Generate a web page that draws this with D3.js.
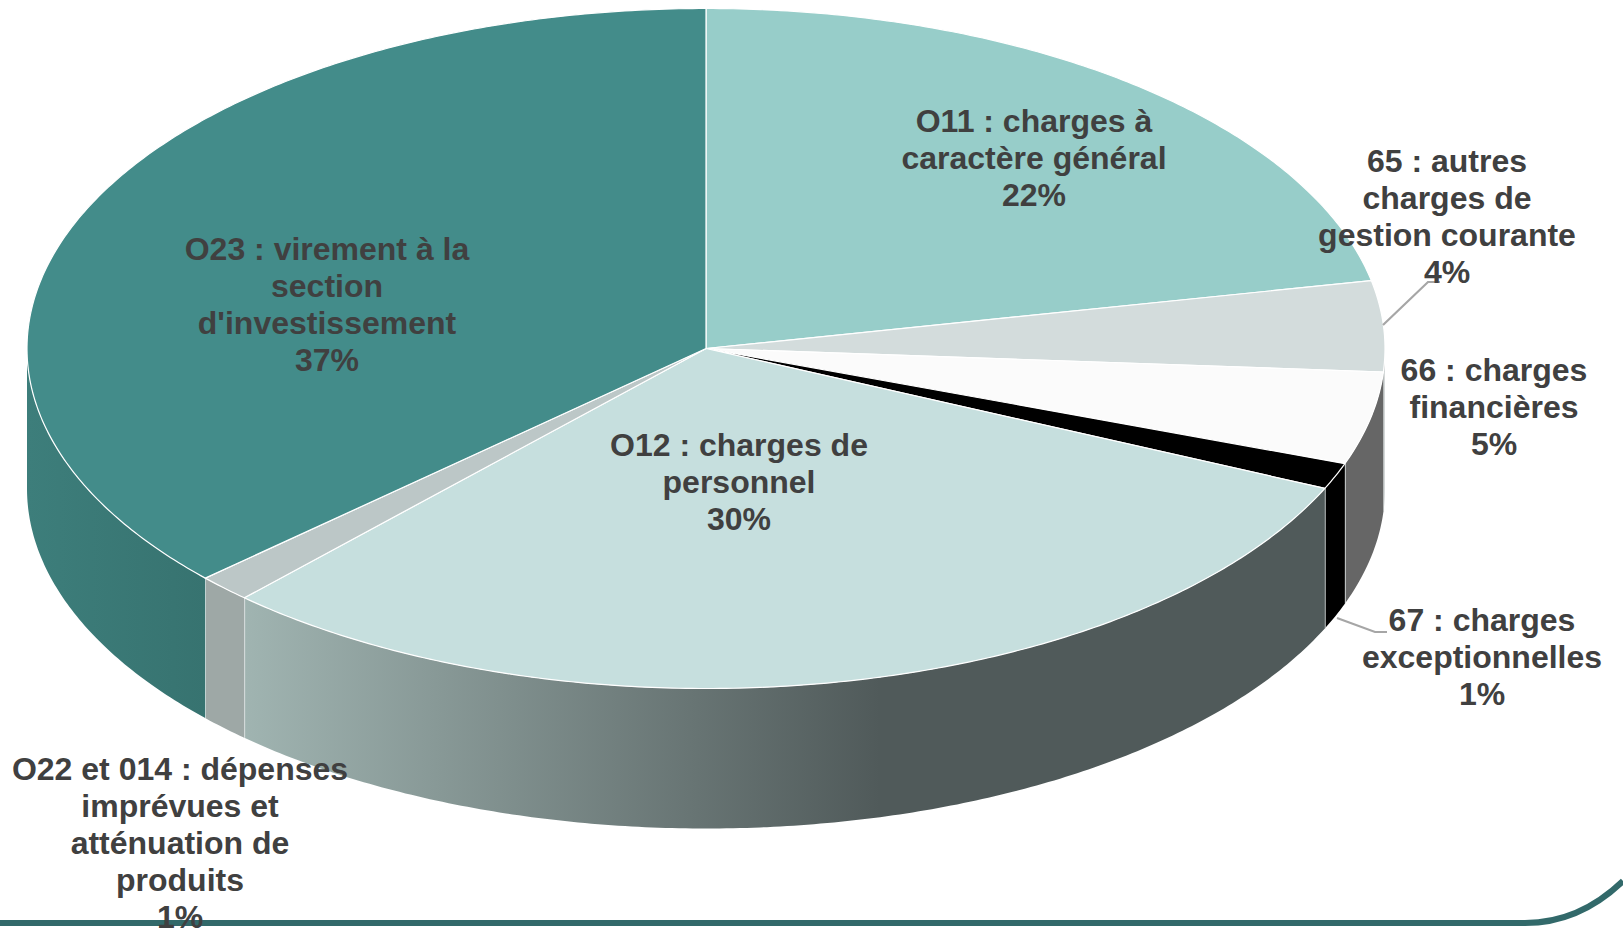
<!DOCTYPE html>
<meta charset="utf-8">
<style>
html, body { margin: 0; background: #fff; }
svg { display: block; }
.label { font-family: "Liberation Sans", Arial, sans-serif; font-weight: bold; font-size: 32px; fill: #404040; text-anchor: middle; }
</style>
<body>
<script src="https://d3js.org/d3.v7.min.js"></script>
<script>
// slices, clockwise from 12 o'clock
const categories = ["O11", "65", "66", "67", "O12", "O22", "O23"];
const values = [21.8, 4.3, 4.4, 1.25, 30.15, 1.3, 36.8];
const labelLines = [
  ["O11 : charges à", "caractère général", "22%"],
  ["65 : autres", "charges de", "gestion courante", "4%"],
  ["66 : charges", "financières", "5%"],
  ["67 : charges", "exceptionnelles", "1%"],
  ["O12 : charges de", "personnel", "30%"],
  ["O22 et 014 : dépenses", "imprévues et", "atténuation de", "produits", "1%"],
  ["O23 : virement à la", "section", "d'investissement", "37%"]
];

// look of the slices
const topColors = ["#97cdc9", "#d3dcdc", "#fbfbfb", "#000000", "#c6dfde", "#bcc7c7", "#438c8a"];
const wallColors = [
  ["#97cdc9", "#97cdc9"], ["#d0d4d4", "#d0d4d4"], ["#666666", "#666666"], ["#000000", "#000000"],
  ["#a0b4b1", "#505a5a"], ["#9ea8a6", "#9ea8a6"], ["#3d7e7b", "#377370"]
];
// where the label block sits (centre x, first line centre y)
const labelX = [1034, 1447, 1494, 1482, 739, 180, 327];
const labelY = [121, 161, 370, 620, 445, 769, 249];

const W = 1623, H = 929;
const cx = 706, cy = 348.5, rx = 679, ry = 340, depth = 140, lineStep = 37;

const x = d3.scaleLinear().domain([-1, 1]).range([cx - rx, cx + rx]);
const y = d3.scaleLinear().domain([-1, 1]).range([cy - ry, cy + ry]);
const px = a => x(Math.sin(a));
const py = a => y(-Math.cos(a));

const svg = d3.select("body").append("svg").attr("width", W).attr("height", H);
const defs = svg.append("defs");

const slices = d3.pie().sort(null).value(d => d)(values);

function arcPoints(a0, a1) {
  const n = Math.max(2, Math.ceil((a1 - a0) / 0.01));
  return d3.range(n + 1).map(i => a0 + (a1 - a0) * i / n);
}

// side walls, only the front half can be seen
const g = svg.append("g");
const path = d3.line();
slices.forEach(function(s, i) {
  const a0 = Math.max(s.startAngle, Math.PI / 2), a1 = Math.min(s.endAngle, Math.PI * 1.5);
  if (a1 <= a0) return;
  const pts = arcPoints(a0, a1);
  const topEdge = pts.map(a => [px(a), py(a)]);
  const botEdge = pts.slice().reverse().map(a => [px(a), py(a) + depth]);

  const id = "wall" + i;
  const grad = defs.append("linearGradient").attr("id", id)
    .attr("gradientUnits", "userSpaceOnUse")
    .attr("x1", i == 4 ? 245 : px(a1)).attr("x2", i == 4 ? 880 : px(a0))
    .attr("y1", 0).attr("y2", 0);
  grad.append("stop").attr("offset", 0).attr("stop-color", wallColors[i][0]);
  grad.append("stop").attr("offset", 1).attr("stop-color", wallColors[i][1]);

  g.append("path")
    .attr("d", path(topEdge.concat(botEdge)) + "Z")
    .attr("fill", "url(#" + id + ")");
  // thin white seam where two walls meet
  if (s.endAngle < Math.PI * 1.5) {
    g.append("line")
      .attr("x1", px(a1)).attr("x2", px(a1))
      .attr("y1", py(a1)).attr("y2", py(a1) + depth)
      .attr("stroke", "#e8eeee").attr("stroke-width", 1.6);
  }
});

// top faces
svg.append("g").selectAll("path")
  .data(slices)
  .join("path")
  .attr("d", function(s) {
    const pts = arcPoints(s.startAngle, s.endAngle).map(a => [px(a), py(a)]);
    return path([[x(0), y(0)]].concat(pts)) + "Z";
  })
  .attr("fill", (d, i) => topColors[i])
  .attr("stroke", "#fff")
  .attr("stroke-width", 1.2)
  .attr("stroke-linejoin", "round");

// leader lines for the two small slices
const leaders = [
  [[1383, 325], [1428, 282], [1440, 282]],
  [[1337, 618], [1375, 632], [1387, 632]]
];
svg.append("g").selectAll("path")
  .data(leaders)
  .join("path")
  .attr("d", d => path(d))
  .attr("fill", "none")
  .attr("stroke", "#a6a6a6")
  .attr("stroke-width", 2.2);

// frame line along the bottom
svg.append("path")
  .attr("d", "M0,923 H1525 C1565,923 1598,905 1623,881")
  .attr("fill", "none")
  .attr("stroke", "#32696a")
  .attr("stroke-width", 6);

// labels
labelLines.forEach(function(lines, i) {
  const t = svg.append("text").attr("class", "label");
  lines.forEach(function(l, j) {
    t.append("tspan")
      .attr("x", labelX[i])
      .attr("y", labelY[i] + j * lineStep + 11)
      .text(l);
  });
});
</script>
</body>
